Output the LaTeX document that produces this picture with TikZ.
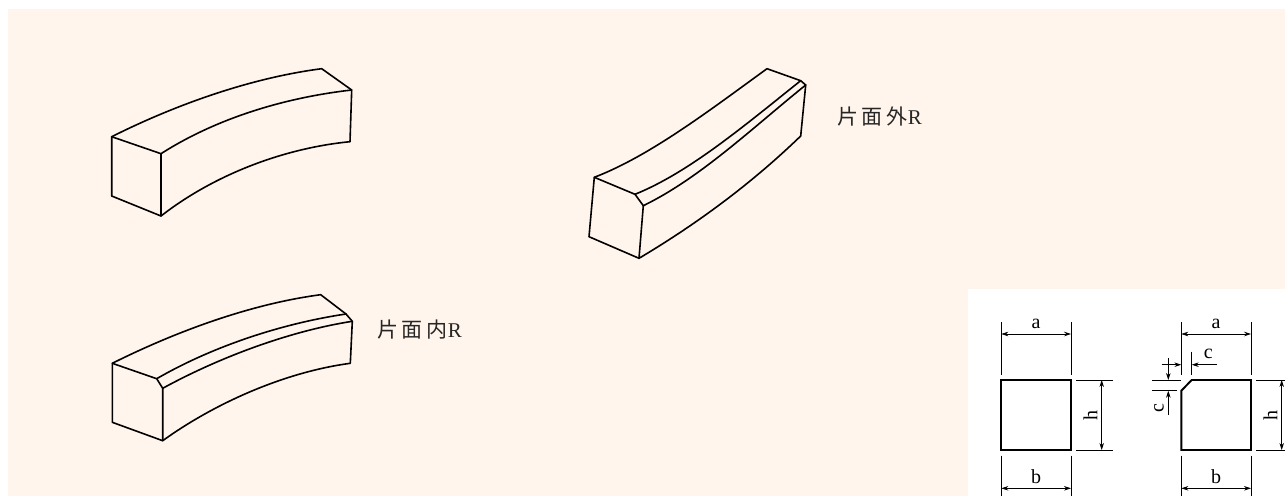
\documentclass[tikz,border=0pt]{standalone}
\usepackage{fontspec}
\usetikzlibrary{arrows.meta}
\setmainfont{Liberation Serif}
\newfontfamily\cjk[LetterSpace=18]{Noto Sans CJK JP}
\definecolor{creambg}{RGB}{255,245,236}
\tikzset{
    blockline/.style={line width=1.6pt,line join=round,line cap=round},
    secline/.style={line width=1.9pt,line join=miter},
    dimline/.style={line width=0.7pt},
    dimarrow/.style={line width=0.7pt,{Stealth[length=7pt,width=4.5pt]}-{Stealth[length=7pt,width=4.5pt]}},
    onearrow/.style={line width=0.7pt,-{Stealth[length=7pt,width=4.5pt]}},
    dimtext/.style={inner sep=0pt,font=\fontsize{20}{22}\selectfont},
    namelabel/.style={inner sep=0pt,anchor=west,text=black!85,font=\fontsize{21}{24}\selectfont}
}
\begin{document}
\begin{tikzpicture}[x=1pt,y=-1pt,>=stealth]
    \useasboundingbox (0,0) rectangle (1285,496);
    \fill[white] (0,0) rectangle (1285,496);
    \fill[creambg] (8,9) rectangle (1285,496);
    \fill[white] (968,289) rectangle (1285,496);
    % plain block
    \draw[blockline] (111.7,136.7) .. controls (175,105) and (250,78) .. (321.7,68.7)
        -- (351.7,90) -- (350,141.7) .. controls (285,148) and (215,174) .. (161,216)
        -- (111.7,196) -- cycle;
    \draw[blockline] (111.7,136.7) -- (161,153.7) -- (161,216);
    \draw[blockline] (161,153.7) .. controls (220,116) and (290,97) .. (351.7,90);
    % block with the chamfer outside
    \draw[blockline] (594.3,177.3) .. controls (650,156) and (710,110) .. (767,68.7)
        -- (800.7,80.7) -- (805.7,85) -- (800.7,136) .. controls (750,185) and (695,225) .. (639,258.3)
        -- (589,236.7) -- cycle;
    \draw[blockline] (594.3,177.3) -- (635,194.3) -- (643.3,205.7) -- (639,258.3);
    \draw[blockline] (635,194.3) .. controls (690,172) and (745,125) .. (800.7,80.7);
    \draw[blockline] (643.3,205.7) .. controls (700,178) and (750,130) .. (805.7,85);
    % block with the chamfer inside
    \draw[blockline] (112.3,363.3) .. controls (175,332) and (250,304) .. (320.7,294.7)
        -- (346,314) -- (352.3,321.3) -- (350.3,363.3) .. controls (285,372) and (215,403) .. (162.7,440.7)
        -- (112.3,422.3) -- cycle;
    \draw[blockline] (112.3,363.3) -- (156.7,378.7) -- (162.7,388.3) -- (162.7,440.7);
    \draw[blockline] (156.7,378.7) .. controls (215,345) and (285,323) .. (346,314);
    \draw[blockline] (162.7,388.3) .. controls (220,357) and (290,331) .. (352.3,321.3);
    \node[namelabel] (outerlabel) at (837,117) {{\cjk 片面外}R};
    \node[namelabel] (innerlabel) at (377,330) {{\cjk 片面内}R};
    % sections
    \draw[secline] (1001.3,380) rectangle (1071,450);
    \draw[secline] (1191.7,380) -- (1251,380) -- (1251,450) -- (1181.3,450) -- (1181.3,390.7) -- cycle;
    \foreach \xl/\xr/\n in {1001.3/1071/1,1181.3/1251/2}{
        \draw[dimline] (\xl,322.3)--(\xl,375) (\xr,322.3)--(\xr,375);
        \draw[dimline] (\xl,455.7)--(\xl,496) (\xr,455.7)--(\xr,496);
        \draw[dimarrow] (\xl,334)--(\xr,334);
        \draw[dimarrow] (\xl,488.3)--(\xr,488.3);
        \draw[dimline] (\xr+5,380)--(\xr+42,380) (\xr+5,450)--(\xr+42,450);
        \draw[dimarrow] (\xr+30.7,380)--(\xr+30.7,450);
        \node[dimtext] (a\n) at ({(\xl+\xr)/2},323.5) {a};
        \node[dimtext] (b\n) at ({(\xl+\xr)/2},476.7) {b};
        \node[dimtext,rotate=90] (h\n) at (\xr+19.5,415) {h};
    }
    % chamfer sizes
    \draw[dimline] (1191.7,351.7)--(1191.7,375);
    \draw[onearrow] (1161.7,364.7)--(1181.3,364.7);
    \draw[onearrow] (1216.7,364.7)--(1191.7,364.7);
    \node[dimtext] (ctop) at (1208.3,354) {c};
    \draw[dimline] (1152.3,380)--(1181,380) (1152.3,390.7)--(1177,390.7);
    \draw[onearrow] (1168.3,358.3)--(1168.3,380);
    \draw[onearrow] (1168.3,415)--(1168.3,390.7);
    \node[dimtext,rotate=90] (cleft) at (1159,408.3) {c};
\end{tikzpicture}
\end{document}
